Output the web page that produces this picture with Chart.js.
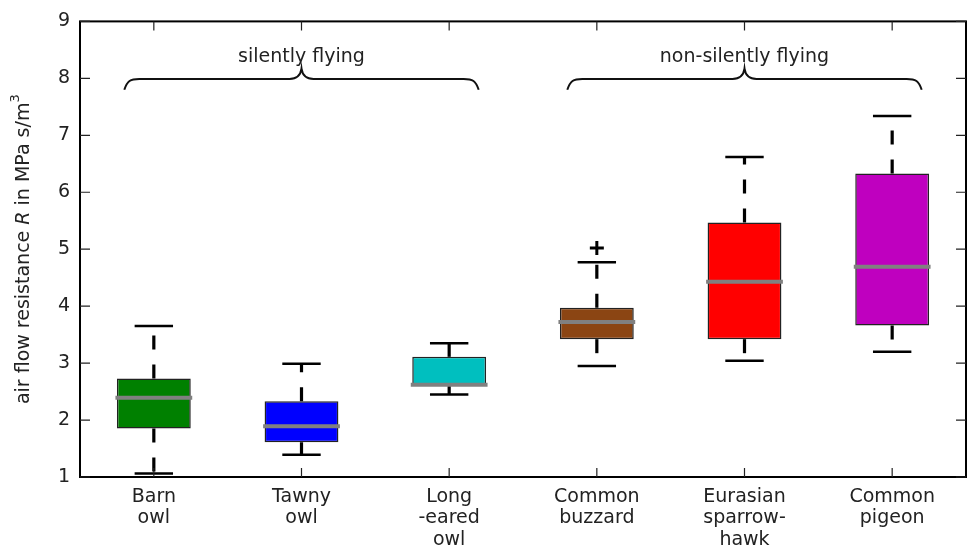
<!DOCTYPE html>
<html>
<head>
<meta charset="utf-8">
<script src="https://cdn.jsdelivr.net/npm/chart.js@4"></script>
<style>
  html, body { margin: 0; padding: 0; background: #fff; }
  #wrap { width: 969px; height: 547px; }
</style>
</head>
<body>
<div id="wrap"><canvas id="myChart"></canvas></div>
<script>
//data
const birds = [["Barn", "owl"], ["Tawny", "owl"], ["Long", "-eared", "owl"], ["Common", "buzzard"], ["Eurasian", "sparrow-", "hawk"], ["Common", "pigeon"]];
const lowCap = [1.06, 1.39, 2.45, 2.95, 3.04, 3.2];
const q1 = [1.85, 1.61, 2.62, 3.42, 3.42, 3.66];
const median = [2.39, 1.89, 2.62, 3.72, 4.43, 4.69];
const q3 = [2.73, 2.33, 3.11, 3.97, 5.47, 6.33];
const highCap = [3.65, 2.99, 3.35, 4.77, 6.62, 7.34];
const outliers = [[], [], [], [5.02], [], []];
const yTicks = [1, 2, 3, 4, 5, 6, 7, 8, 9];
const groupNames = ["silently flying", "non-silently flying"];
const groupFrom = [0, 3];
const groupTo = [2, 5];

const boxColors = ["#008000", "#0000ff", "#00bfbf", "#8b4513", "#ff0000", "#bf00bf"];
const FONT = "'DejaVu Sans', sans-serif";

//whiskers, caps, medians, outliers, frame and braces
const boxExtras = {
  id: "boxExtras",
  afterDatasetsDraw(chart) {
    const ctx = chart.ctx;
    const x = chart.scales.x;
    const y = chart.scales.y;
    const area = chart.chartArea;
    const step = x.getPixelForValue(1) - x.getPixelForValue(0);
    ctx.save();

    for (let i = 0; i < birds.length; i++) {
      const cx = x.getPixelForValue(i);
      //whiskers (dashed, starting at the box)
      ctx.strokeStyle = "#000";
      ctx.lineWidth = 3.2;
      ctx.setLineDash([14, 15]);
      ctx.beginPath();
      ctx.moveTo(cx, y.getPixelForValue(q3[i]));
      ctx.lineTo(cx, y.getPixelForValue(highCap[i]));
      ctx.stroke();
      ctx.beginPath();
      ctx.moveTo(cx, y.getPixelForValue(q1[i]));
      ctx.lineTo(cx, y.getPixelForValue(lowCap[i]));
      ctx.stroke();
      ctx.setLineDash([]);
      //caps
      const capW = step * 0.13;
      ctx.lineWidth = 2.5;
      [lowCap[i], highCap[i]].forEach((v) => {
        const py = y.getPixelForValue(v);
        ctx.beginPath();
        ctx.moveTo(cx - capW, py);
        ctx.lineTo(cx + capW, py);
        ctx.stroke();
      });
      //median
      const medW = step * 0.26;
      ctx.strokeStyle = "#808080";
      ctx.lineWidth = 4;
      const pm = y.getPixelForValue(median[i]);
      ctx.beginPath();
      ctx.moveTo(cx - medW, pm);
      ctx.lineTo(cx + medW, pm);
      ctx.stroke();
      //outliers
      ctx.strokeStyle = "#000";
      ctx.lineWidth = 3;
      outliers[i].forEach((v) => {
        const po = y.getPixelForValue(v);
        ctx.beginPath();
        ctx.moveTo(cx - 7, po);
        ctx.lineTo(cx + 7, po);
        ctx.moveTo(cx, po - 7);
        ctx.lineTo(cx, po + 7);
        ctx.stroke();
      });
    }

    //frame
    ctx.strokeStyle = "#000";
    ctx.lineWidth = 2;
    ctx.strokeRect(area.left, area.top, area.right - area.left, area.bottom - area.top);

    //inward tick marks
    ctx.lineWidth = 1.2;
    ctx.strokeStyle = "#222";
    y.ticks.forEach((t, k) => {
      const py = y.getPixelForTick(k);
      ctx.beginPath();
      ctx.moveTo(area.left, py);
      ctx.lineTo(area.left + 10, py);
      ctx.moveTo(area.right, py);
      ctx.lineTo(area.right - 10, py);
      ctx.stroke();
    });
    x.ticks.forEach((t, k) => {
      const px = x.getPixelForTick(k);
      ctx.beginPath();
      ctx.moveTo(px, area.top);
      ctx.lineTo(px, area.top + 9);
      ctx.moveTo(px, area.bottom);
      ctx.lineTo(px, area.bottom - 9);
      ctx.stroke();
    });

    //group braces
    ctx.lineWidth = 2;
    ctx.strokeStyle = "#111";
    for (let g = 0; g < groupNames.length; g++) {
      const xa = x.getPixelForValue(groupFrom[g] - 0.2);
      const xb = x.getPixelForValue(groupTo[g] + 0.2);
      const xm = (xa + xb) / 2;
      const yEnd = y.getPixelForValue(7.8);
      const yFlat = y.getPixelForValue(7.99);
      const yTip = y.getPixelForValue(8.17);
      ctx.beginPath();
      ctx.moveTo(xa, yEnd);
      ctx.bezierCurveTo(xa + 3, yFlat + 2, xa + 6, yFlat, xa + 15, yFlat);
      ctx.lineTo(xm - 12, yFlat);
      ctx.bezierCurveTo(xm - 5, yFlat, xm - 1, yFlat - 3, xm, yTip);
      ctx.bezierCurveTo(xm + 1, yFlat - 3, xm + 5, yFlat, xm + 12, yFlat);
      ctx.lineTo(xb - 15, yFlat);
      ctx.bezierCurveTo(xb - 6, yFlat, xb - 3, yFlat + 2, xb, yEnd);
      ctx.stroke();

      ctx.fillStyle = "#222";
      ctx.font = "19px " + FONT;
      ctx.textAlign = "center";
      ctx.textBaseline = "middle";
      ctx.fillText(groupNames[g], xm, y.getPixelForValue(8.37));
    }
    ctx.restore();
  },
  afterDraw(chart) {
    //y axis title with italic R and superscript 3
    const ctx = chart.ctx;
    const area = chart.chartArea;
    const parts = [
      { t: "air flow resistance ", f: "19px " + FONT, dy: 0 },
      { t: "R", f: "italic 19px " + FONT, dy: 0 },
      { t: " in MPa s/m", f: "19px " + FONT, dy: 0 },
      { t: "3", f: "13px " + FONT, dy: -8 },
    ];
    ctx.save();
    let total = 0;
    parts.forEach((p) => {
      ctx.font = p.f;
      p.w = ctx.measureText(p.t).width;
      total += p.w;
    });
    ctx.translate(24, (area.top + area.bottom) / 2);
    ctx.rotate(-Math.PI / 2);
    ctx.fillStyle = "#222";
    ctx.textBaseline = "middle";
    ctx.textAlign = "left";
    let pos = -total / 2;
    parts.forEach((p) => {
      ctx.font = p.f;
      ctx.fillText(p.t, pos, p.dy);
      pos += p.w;
    });
    ctx.restore();
  },
};

const ctx = document.getElementById("myChart");
const myChart = new Chart(ctx, {
  type: "bar",
  data: {
    labels: birds,
    datasets: [
      {
        label: "box",
        data: q1.map((v, i) => [v, q3[i]]),
        backgroundColor: boxColors,
        borderColor: "#222",
        borderWidth: 1.5,
        borderSkipped: false,
        barPercentage: 0.5,
        categoryPercentage: 1,
      },
    ],
  },
  options: {
    responsive: true,
    maintainAspectRatio: false,
    animation: false,
    layout: {
      padding: { top: 17, right: 3, left: 0, bottom: 0 },
    },
    plugins: {
      legend: { display: false },
      tooltip: { enabled: false },
    },
    scales: {
      x: {
        offset: true,
        grid: { display: false, drawTicks: false },
        border: { display: false },
        ticks: {
          color: "#222",
          padding: 9,
          maxRotation: 0,
          autoSkip: false,
          font: { size: 19, family: FONT, lineHeight: 1.13 },
        },
        afterFit: (scale) => {
          scale.height = 70;
        },
      },
      y: {
        min: 1,
        max: 9,
        grid: { display: false, drawTicks: false },
        border: { display: false },
        afterBuildTicks: (scale) => {
          scale.ticks = yTicks.map((v) => ({ value: v }));
        },
        ticks: {
          color: "#222",
          padding: 10,
          font: { size: 19, family: FONT },
        },
        afterFit: (scale) => {
          scale.width = 80;
        },
      },
    },
  },
  plugins: [boxExtras],
});
</script>
</body>
</html>
